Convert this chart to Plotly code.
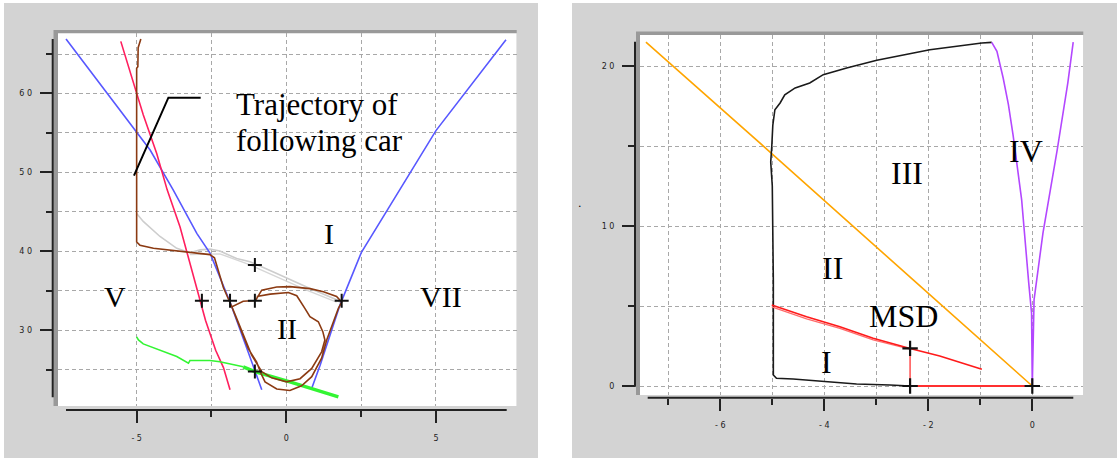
import plotly.graph_objects as go

W, H = 1117, 460

# ---------------- Left panel data ----------------
blue_l_x = [-7.36, -5.11, -4.55, -3.78, -2.99, -2.55, -1.88, -1.32, -0.99, -0.82]
blue_l_y = [66.9, 55.6, 52.85, 47.8, 42.3, 39.8, 33.6, 27.75, 24.4, 22.5]
blue_r_x = [0.85, 1.13, 1.46, 1.79, 2.07, 2.51, 5.0, 7.34]
blue_r_y = [22.7, 25.6, 29.4, 33.2, 35.8, 39.9, 55.3, 66.8]

pink_x = [-5.53, -5.11, -4.78, -4.33, -3.98, -3.55, -3.25, -2.99, -2.70, -2.36, -2.10, -1.88]
pink_y = [66.6, 61.5, 57.3, 52.4, 47.8, 43.1, 39.0, 35.1, 31.3, 27.5, 25.3, 22.5]

brown_x = [-4.86, -4.91, -4.95, -4.96, -5.0, -5.0, -4.89, -4.44, -3.66, -2.99, -2.55, -2.40, -2.30,
           -2.10, -1.82, -1.55, -1.27, -0.99, -0.85, -0.71, -0.32, 0.12, 0.51, 0.85, 1.18, 1.35,
           1.57, 1.74, 1.85, 1.68, 1.24, 0.79, 0.12, -0.32, -0.82, -0.94, -1.03, -1.44, -1.66,
           -1.82, -1.71, -1.44, -1.16, -0.82, -0.49, 0.01, 0.46, 0.85, 1.18, 1.29, 1.22, 1.07,
           0.79, 0.62, 0.35, 0.07, -0.54, -0.99]
brown_y = [66.9, 66.4, 65.8, 63.4, 63.2, 41.2, 40.8, 40.4, 40.06, 39.8, 39.6, 39.2, 38.0,
           35.4, 33.0, 30.3, 27.7, 26.0, 24.6, 23.5, 22.6, 22.4, 23.0, 24.15, 26.5, 28.8,
           31.1, 32.8, 33.6, 34.3, 34.9, 35.3, 35.55, 35.5, 35.1, 34.4, 33.8, 33.7, 33.3,
           33.0, 32.0, 29.4, 26.9, 24.8, 24.0, 23.5, 23.9, 25.2, 27.3, 28.8, 29.85, 31.1,
           31.75, 32.8, 34.4, 34.8, 34.6, 34.3]

gray1_x = [-5.0, -4.78, -4.22, -3.66, -3.22, -2.88, -2.55, -2.22, -1.66, -1.21, -0.43, 0.68, 1.68, 1.85]
gray1_y = [44.8, 43.8, 41.9, 40.4, 39.85, 40.2, 40.3, 40.06, 39.1, 38.7, 37.4, 35.5, 33.9, 33.4]
gray2_x = [-3.22, -2.22, -1.21, -0.43, 0.68, 1.68]
gray2_y = [39.6, 39.7, 38.3, 37.0, 35.1, 33.6]

green_thin_x = [-5.0, -4.94, -4.78, -4.22, -3.66, -3.27, -3.22, -2.55, -2.22, -1.44]
green_thin_y = [29.2, 28.8, 28.3, 27.5, 26.7, 25.85, 26.2, 26.2, 26.05, 25.4]
green_thick_x = [-1.44, -1.05, 0.12, 1.02, 1.74]
green_thick_y = [25.4, 24.8, 23.5, 22.5, 21.6]

cross_l_x = [-2.82, -1.88, -1.05, 1.85, -1.05, -1.05]
cross_l_y = [33.75, 33.75, 33.75, 33.75, 38.3, 24.8]

left_xticks = [-5, 0, 5]
left_xticktext = ["- 5", "0", "5"]
left_xminor = [-2.5, 2.5]
left_yticks = [30, 40, 50, 60]
left_yticktext = ["3 0", "4 0", "5 0", "6 0"]
left_yminor = [25, 35, 45, 55, 65]

# ---------------- Right panel data ----------------
orange_x = [-7.43, -5.0, -2.29, -0.27, 0.0]
orange_y = [21.5, 14.5, 6.63, 0.79, 0.0]

black_x = [-0.78, -0.97, -1.97, -2.99, -3.57, -4.02, -4.28, -4.56, -4.76, -4.85, -4.95, -4.99,
           -5.01, -5.03, -5.0, -4.98, -4.98, -4.92, -4.6, -4.02, -3.38, -2.74, -2.35]
black_y = [21.48, 21.44, 21.02, 20.36, 19.88, 19.46, 18.94, 18.63, 18.2, 17.69, 17.27, 16.3,
           14.98, 14.0, 12.5, 6.6, 0.69, 0.48, 0.44, 0.27, 0.125, 0.06, 0.0]

purple_x = [-0.78, -0.68, -0.56, -0.46, -0.37, -0.205, -0.068, -0.014, 0.0, 0.034, 0.205, 0.48, 0.684, 0.787]
purple_y = [21.48, 20.92, 19.25, 17.6, 15.7, 11.65, 6.43, 4.55, 0.0, 5.39, 9.56, 14.78, 18.96, 21.5]

red_x = [-5.01, -4.34, -3.70, -3.06, -2.35, -1.78, -0.97]
red_y = [5.06, 4.33, 3.71, 2.98, 2.35, 1.875, 1.04]
red2_x = [-5.01, -4.34, -3.70, -3.06, -2.35]
red2_y = [4.95, 4.2, 3.6, 2.88, 2.3]
msd_v_x = [-2.35, -2.35]
msd_v_y = [2.35, 0.0]
msd_h_x = [-2.35, 0.0]
msd_h_y = [0.0, 0.0]

cross_r_x = [-2.35, -2.35, 0.0]
cross_r_y = [2.35, 0.0, 0.0]

right_xticks = [-6, -4, -2, 0]
right_xticktext = ["- 6", "- 4", "- 2", "0"]
right_xminor = [-7, -5, -3, -1]
right_yticks = [0, 10, 20]
right_yticktext = ["0", "1 0", "2 0"]
right_yminor = [5, 15]

# ---------------- Figure ----------------
fig = go.Figure()


def line(x, y, color, width=1.6, ax="1", opacity=1.0):
    fig.add_trace(go.Scatter(
        x=x, y=y, mode="lines", line=dict(color=color, width=width),
        xaxis="x" if ax == "1" else "x2", yaxis="y" if ax == "1" else "y2",
        hoverinfo="skip", opacity=opacity))


# left
line(gray1_x, gray1_y, "#cdcdcd", 1.6)
line(gray2_x, gray2_y, "#d6d6d6", 1.4)
line(blue_l_x, blue_l_y, "#5858ff", 1.6)
line(blue_r_x, blue_r_y, "#5858ff", 1.6)
line(pink_x, pink_y, "#ff1f5e", 1.6)
line(green_thin_x, green_thin_y, "#33f533", 1.6)
line(green_thick_x, green_thick_y, "#33f533", 3.5)
line(brown_x, brown_y, "#8b3a12", 1.6)
fig.add_trace(go.Scatter(x=cross_l_x, y=cross_l_y, mode="markers",
                         marker=dict(symbol="cross-thin", size=10, line=dict(width=2, color="#111")),
                         hoverinfo="skip"))

# right
line(orange_x, orange_y, "#ffa500", 1.6, "2")
line(black_x, black_y, "#1a1a1a", 1.6, "2")
line(purple_x, purple_y, "#b347ff", 1.6, "2")
line(red2_x, red2_y, "#ff6a6a", 1.2, "2")
line(red_x, red_y, "#ff1a1a", 1.6, "2")
line(msd_v_x, msd_v_y, "#ff5a5a", 1.6, "2")
line(msd_h_x, msd_h_y, "#ff3030", 1.8, "2")
fig.add_trace(go.Scatter(x=cross_r_x, y=cross_r_y, mode="markers", xaxis="x2", yaxis="y2",
                         marker=dict(symbol="cross-thin", size=11, line=dict(width=2.2, color="#111")),
                         hoverinfo="skip"))


def px(x):
    return x / W


def py(y):
    return 1 - y / H


GRID = dict(showgrid=True, gridcolor="#a8a8a8", gridwidth=1, griddash="4px,3px")
TICKFONT = dict(family="DejaVu Sans", size=8, color="#222")

fig.update_layout(
    width=W, height=H, margin=dict(l=0, r=0, t=0, b=0),
    paper_bgcolor="white", plot_bgcolor="rgba(0,0,0,0)", showlegend=False,
    xaxis=dict(domain=[px(58), px(516.7)], range=[-7.628, 7.698], anchor="free", position=py(410),
               showline=False, zeroline=False, tickmode="array", tickvals=left_xticks,
               ticktext=left_xticktext, ticks="outside", ticklen=12, tickwidth=2, tickcolor="#222",
               tickfont=TICKFONT, ticklabelstandoff=8,
               minor=dict(tickmode="array", tickvals=left_xminor, ticks="outside", ticklen=6,
                          tickwidth=2, tickcolor="#222", **GRID), **GRID),
    yaxis=dict(domain=[py(406), py(33.3)], range=[20.44, 67.62], anchor="free", position=px(52.7),
               showline=False, zeroline=False, tickmode="array", tickvals=left_yticks,
               ticktext=left_yticktext, ticks="outside", ticklen=13, tickwidth=2, tickcolor="#222",
               tickfont=TICKFONT, ticklabelstandoff=6,
               minor=dict(tickmode="array", tickvals=left_yminor, ticks="outside", ticklen=7,
                          tickwidth=2, tickcolor="#222", **GRID), **GRID),
    xaxis2=dict(domain=[px(640), px(1083.3)], range=[-7.544, 0.981], anchor="free", position=py(397.7),
                showline=False, zeroline=False, tickmode="array", tickvals=right_xticks,
                ticktext=right_xticktext, ticks="outside", ticklen=12, tickwidth=2, tickcolor="#222",
                tickfont=TICKFONT, ticklabelstandoff=8,
                minor=dict(tickmode="array", tickvals=right_xminor, ticks="outside", ticklen=6,
                           tickwidth=2, tickcolor="#222", **GRID), **GRID),
    yaxis2=dict(domain=[py(395), py(35)], range=[-0.5625, 21.94], anchor="free", position=px(635),
                showline=False, zeroline=False, tickmode="array", tickvals=right_yticks,
                ticktext=right_yticktext, ticks="outside", ticklen=13, tickwidth=2, tickcolor="#222",
                tickfont=TICKFONT, ticklabelstandoff=6,
                minor=dict(tickmode="array", tickvals=right_yminor, ticks="outside", ticklen=7,
                           tickwidth=2, tickcolor="#222", **GRID), **GRID),
)


def rect(x0, y0, x1, y1, color, layer="below"):
    return dict(type="rect", xref="paper", yref="paper", x0=px(x0), x1=px(x1), y0=py(y1), y1=py(y0),
                fillcolor=color, line=dict(width=0), layer=layer)


def seg(x0, y0, x1, y1, color="#222", width=2):
    return dict(type="line", xref="paper", yref="paper", x0=px(x0), x1=px(x1), y0=py(y0), y1=py(y1),
                line=dict(color=color, width=width), layer="above")


shapes = [
    rect(4, 3, 538, 458, "#d3d3d3"),
    rect(572, 3, 1117, 458, "#d3d3d3"),
    rect(53.5, 30, 516.7, 406, "#999999"),
    rect(58, 33.3, 516.7, 406, "white"),
    rect(636, 31.5, 1083.3, 395, "#999999"),
    rect(640, 35, 1083.3, 395, "white"),
    seg(52.7, 39, 52.7, 397.3),
    seg(66, 410, 506.7, 410),
    seg(635, 41.7, 635, 386.7),
    seg(647.7, 397.7, 1073.3, 397.7),
    # callout pointer (data coords of left panel)
    dict(type="path", xref="x", yref="y", path="M -5.09,49.6 L -3.94,59.47 L -2.86,59.47",
         line=dict(color="black", width=2), layer="above"),
]
fig.update_layout(shapes=shapes)

SERIF = "Liberation Serif"
ann = []


def label(text, x, y, size, ax="1", xanchor="center"):
    ann.append(dict(text=text, x=x, y=y, xref="x" if ax == "1" else "x2", yref="y" if ax == "1" else "y2",
                    showarrow=False, xanchor=xanchor, yanchor="middle",
                    font=dict(family=SERIF, size=size, color="black")))


label("Trajectory of", -1.76, 58.6, 31, xanchor="left")
label("following car", -1.76, 54.0, 31, xanchor="left")
label("I", 1.42, 42.3, 30)
label("V", -5.72, 34.3, 30)
label("VII", 5.16, 34.3, 30)
label("II", 0.02, 30.3, 30)

label("III", -2.40, 13.3, 32, "2")
label("IV", -0.12, 14.7, 32, "2")
label("II", -3.85, 7.37, 32, "2")
label("MSD", -2.47, 4.38, 32, "2")
label("I", -3.95, 1.52, 32, "2")

ann.append(dict(text=".", x=px(580), y=py(203), xref="paper", yref="paper", showarrow=False,
                font=dict(family="DejaVu Sans", size=11, color="black")))
fig.update_layout(annotations=ann)

fig.write_html("out.html", config={"displayModeBar": False},
               post_script="document.body.style.margin='0';document.body.style.overflow='hidden';")
